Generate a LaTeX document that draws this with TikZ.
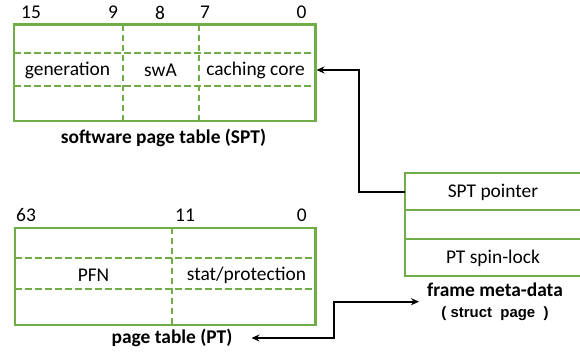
\documentclass[tikz,border=0pt]{standalone}
\usepackage{fontspec}
\setmainfont{Carlito}
\newfontfamily\arialfont{Liberation Sans}
\usetikzlibrary{arrows.meta}
\definecolor{boxgreen}{HTML}{70AD47}
\tikzset{
  frameline/.style={draw=boxgreen, line width=2.2bp},
  dashline/.style={draw=boxgreen, line width=2bp, dash pattern=on 6.5bp off 3.5bp},
  lbl/.style={inner sep=0pt, font=\fontsize{19.5}{22}\selectfont},
  captxt/.style={inner sep=0pt, font=\fontsize{19.5}{22}\selectfont\bfseries},
  link/.style={draw=black, line width=2bp},
  tip/.style={-{Stealth[length=8bp,width=7bp]}},
  tips/.style={{Stealth[length=8bp,width=7bp]}-{Stealth[length=8bp,width=7bp]}},
}
\begin{document}
\begin{tikzpicture}[x=1bp,y=-1bp]
\useasboundingbox (0,0) rectangle (580,354);

% ---- software page table ----
\draw[dashline] (14,52.7) -- (315.5,52.7) (14,86) -- (315.5,86);
\draw[dashline] (123,24.5) -- (123,120.7) (198.5,24.5) -- (198.5,120.7);
\draw[frameline] (14,24.5) rectangle (315.5,120.7);
\node[lbl] (s15) at (31,12.5) {15};
\node[lbl] (s9) at (113,12.5) {9};
\node[lbl] (s8) at (160,12.5) {8};
\node[lbl] (s7) at (205,12.5) {7};
\node[lbl] (s0) at (301.5,12.5) {0};
\node[lbl] (gen) at (67.5,70) {generation};
\node[lbl] (swa) at (160.5,70) {swA};
\node[lbl] (cc) at (255.5,70) {caching core};
\coordinate (sptin) at (316.5,70);
\node[captxt] (sptcap) at (163.5,138) {software page table (SPT)};

% ---- page table ----
\draw[dashline] (15,257.7) -- (315.5,257.7) (15,289.3) -- (315.5,289.3);
\draw[dashline] (171.7,227.7) -- (171.7,325);
\draw[frameline] (15,227.7) rectangle (315.5,325);
\node[lbl] (p63) at (26,215) {63};
\node[lbl] (p11) at (185,215) {11};
\node[lbl] (p0) at (301.7,215) {0};
\node[lbl] (pfn) at (93.5,275) {PFN};
\node[lbl] (stat) at (246.5,275) {stat/protection};
\node[captxt] (ptcap) at (172,338) {page table (PT)};
\coordinate (ptin) at (251.5,338);

% ---- frame meta-data (open on the right) ----
\draw[frameline] (585,210) -- (405,210) (585,239.3) -- (405,239.3);
\draw[frameline] (585,172.7) -- (405,172.7) -- (405,276) -- (585,276);
\coordinate (fmleft) at (405,191.5);
\node[lbl] (sptptr) at (493,192) {SPT pointer};
\node[lbl] (spin) at (493,258.5) {PT spin-lock};
\node[captxt] (fmcap) at (495,289.5) {frame meta-data};
\node[inner sep=0pt, font=\arialfont\fontsize{15}{17}\selectfont\bfseries] (sp) at (495,314) {(\ struct\ \ page\ \ )};
\coordinate (fmin) at (419,301.7);

% ---- connectors ----
\draw[link,tip] (fmleft) -| (359,70) -- (sptin);
\draw[link,tips] (ptin) -| (333.5,301.7) -- (fmin);
\end{tikzpicture}
\end{document}
